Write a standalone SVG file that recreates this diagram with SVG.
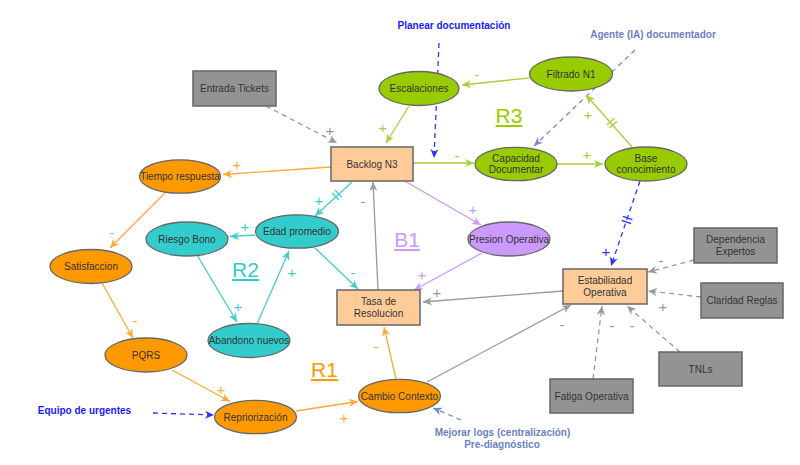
<svg xmlns="http://www.w3.org/2000/svg" width="800" height="465" viewBox="0 0 800 465">
<style>
.t{font-family:"Liberation Sans",Arial,sans-serif;font-size:10px;fill:#333;text-anchor:middle}
.ell{stroke:#666;stroke-width:1.3}
.box{stroke:#666;stroke-width:1.5}
.peach{fill:#ffcc99}
.gbox{fill:#939393}
.g{fill:#99cc00}.o{fill:#ff9900}.c{fill:#33cccc}.p{fill:#cc99ff}
.ln{fill:none;stroke-width:1.3}
.lg{stroke:#a6d13a}.lo{stroke:#ffaa33}.lc{stroke:#44cccc}.lp{stroke:#cc99ff}.lgr{stroke:#999}.lb{stroke:#3333ff}.ls{stroke:#7788cc}
.d{stroke-dasharray:5,4}
.s{font-family:"Liberation Sans",Arial,sans-serif;font-size:15px;text-anchor:middle}
.lab{font-family:"Liberation Sans",Arial,sans-serif;font-size:10px;font-weight:bold;text-anchor:middle}
.loop{font-family:"Liberation Sans",Arial,sans-serif;font-size:21px;text-anchor:middle;text-decoration:underline}
</style>
<defs>
<marker id="ag" viewBox="0 0 10 10" refX="10" refY="5" markerWidth="9" markerHeight="9" markerUnits="userSpaceOnUse" orient="auto"><path d="M0,0.5 L10,5 L0,9.5 L3,5 z" fill="#a6d13a"/></marker>
<marker id="ao" viewBox="0 0 10 10" refX="10" refY="5" markerWidth="9" markerHeight="9" markerUnits="userSpaceOnUse" orient="auto"><path d="M0,0.5 L10,5 L0,9.5 L3,5 z" fill="#ffaa33"/></marker>
<marker id="ac" viewBox="0 0 10 10" refX="10" refY="5" markerWidth="9" markerHeight="9" markerUnits="userSpaceOnUse" orient="auto"><path d="M0,0.5 L10,5 L0,9.5 L3,5 z" fill="#44cccc"/></marker>
<marker id="ap" viewBox="0 0 10 10" refX="10" refY="5" markerWidth="9" markerHeight="9" markerUnits="userSpaceOnUse" orient="auto"><path d="M0,0.5 L10,5 L0,9.5 L3,5 z" fill="#cc99ff"/></marker>
<marker id="agr" viewBox="0 0 10 10" refX="10" refY="5" markerWidth="9" markerHeight="9" markerUnits="userSpaceOnUse" orient="auto"><path d="M0,0.5 L10,5 L0,9.5 L3,5 z" fill="#999"/></marker>
<marker id="ab" viewBox="0 0 10 10" refX="10" refY="5" markerWidth="9" markerHeight="9" markerUnits="userSpaceOnUse" orient="auto"><path d="M0,0.5 L10,5 L0,9.5 L3,5 z" fill="#3333ff"/></marker>
<marker id="as" viewBox="0 0 10 10" refX="10" refY="5" markerWidth="9" markerHeight="9" markerUnits="userSpaceOnUse" orient="auto"><path d="M0,0.5 L10,5 L0,9.5 L3,5 z" fill="#7788cc"/></marker>
</defs>
<rect width="800" height="465" fill="#fff"/>

<g id="connectors">
<!-- R3 -->
<line class="ln lgr d" x1="266" y1="106" x2="337" y2="143" marker-end="url(#agr)"/>
<line class="ln lg" x1="409" y1="106" x2="386" y2="143" marker-end="url(#ag)"/>
<line class="ln lg" x1="529" y1="78" x2="462" y2="85" marker-end="url(#ag)"/>
<line class="ln lb d" x1="439" y1="43" x2="434" y2="158" marker-end="url(#ab)"/>
<line class="ln lg" x1="413" y1="163" x2="474" y2="163" marker-end="url(#ag)"/>
<line class="ln ls d" x1="635" y1="50" x2="534" y2="146" marker-end="url(#as)"/>
<line class="ln lg" x1="557" y1="164" x2="603" y2="164" marker-end="url(#ag)"/>
<line class="ln lg" x1="632" y1="147" x2="586" y2="95" marker-end="url(#ag)"/>
<g class="lg" stroke-width="1.3" transform="translate(612,123) rotate(-131)"><line x1="-2" y1="-5" x2="-2" y2="5"/><line x1="2" y1="-5" x2="2" y2="5"/></g>
<line class="ln lb d" x1="640" y1="181" x2="611" y2="266" marker-end="url(#ab)"/>
<g class="lb" stroke-width="1.3" transform="translate(627,220) rotate(109)"><line x1="-2" y1="-5" x2="-2" y2="5"/><line x1="2" y1="-5" x2="2" y2="5"/></g>
<!-- Estabilidad inputs -->
<line class="ln lgr d" x1="694" y1="260" x2="648" y2="272" marker-end="url(#agr)"/>
<line class="ln lgr d" x1="701" y1="297" x2="648" y2="291" marker-end="url(#agr)"/>
<line class="ln lgr d" x1="680" y1="352" x2="627" y2="306" marker-end="url(#agr)"/>
<line class="ln lgr d" x1="593" y1="379" x2="602" y2="306" marker-end="url(#agr)"/>
<line class="ln lgr" x1="427" y1="382" x2="571" y2="305" marker-end="url(#agr)"/>
<line class="ln lgr" x1="563" y1="291" x2="423" y2="302" marker-end="url(#agr)"/>
<line class="ln lgr" x1="378" y1="290" x2="373" y2="182" marker-end="url(#agr)"/>
<!-- B1 -->
<line class="ln lp" x1="403" y1="180" x2="481" y2="225" marker-end="url(#ap)"/>
<line class="ln lp" x1="482" y1="253" x2="414" y2="290" marker-end="url(#ap)"/>
<!-- R2 -->
<line class="ln lc" x1="352" y1="182" x2="315" y2="216" marker-end="url(#ac)"/>
<g class="lc" stroke-width="1.3" transform="translate(337,195) rotate(137)"><line x1="-2" y1="-5" x2="-2" y2="5"/><line x1="2" y1="-5" x2="2" y2="5"/></g>
<line class="ln lc" x1="255" y1="235" x2="230" y2="236.5" marker-end="url(#ac)"/>
<line class="ln lc" x1="197" y1="255" x2="237" y2="322" marker-end="url(#ac)"/>
<line class="ln lc" x1="257" y1="324" x2="289" y2="251" marker-end="url(#ac)"/>
<line class="ln lc" x1="315" y1="248" x2="358" y2="289" marker-end="url(#ac)"/>
<!-- R1 -->
<line class="ln lo" x1="331" y1="167" x2="223" y2="174.5" marker-end="url(#ao)"/>
<line class="ln lo" x1="165" y1="193" x2="110" y2="248" marker-end="url(#ao)"/>
<line class="ln lo" x1="102" y1="283" x2="133" y2="338" marker-end="url(#ao)"/>
<line class="ln lo" x1="172" y1="370" x2="230" y2="401.5" marker-end="url(#ao)"/>
<line class="ln lb d" x1="153" y1="413" x2="214" y2="415" marker-end="url(#ab)"/>
<line class="ln lo" x1="296" y1="411" x2="358" y2="401.5" marker-end="url(#ao)"/>
<line class="ln lo" x1="396" y1="379" x2="384" y2="327" marker-end="url(#ao)"/>
<line class="ln ls d" x1="461" y1="420" x2="433" y2="408" marker-end="url(#as)"/>

<!-- polarity signs -->
<g class="s">
<text x="330" y="136" fill="#999">+</text>
<text x="383" y="133" fill="#a6d13a">+</text>
<text x="477" y="80" fill="#a6d13a">-</text>
<text x="457" y="161" fill="#a6d13a">-</text>
<text x="587" y="160" fill="#a6d13a">+</text>
<text x="588" y="120" fill="#a6d13a">+</text>
<text x="606" y="257" fill="#3333ff">+</text>
<text x="661" y="266" fill="#999">-</text>
<text x="663" y="312" fill="#999">+</text>
<text x="632" y="331" fill="#999">-</text>
<text x="612" y="331" fill="#999">-</text>
<text x="562" y="330" fill="#999">-</text>
<text x="437" y="298" fill="#999">+</text>
<text x="363" y="207" fill="#999">-</text>
<text x="473" y="215" fill="#cc99ff">+</text>
<text x="422" y="280" fill="#cc99ff">+</text>
<text x="319" y="206" fill="#44cccc">+</text>
<text x="245" y="232" fill="#44cccc">+</text>
<text x="238" y="312" fill="#44cccc">+</text>
<text x="292" y="278" fill="#44cccc">+</text>
<text x="353" y="278" fill="#44cccc">-</text>
<text x="237" y="170" fill="#ffaa33">+</text>
<text x="112" y="238" fill="#ffaa33">-</text>
<text x="135" y="326" fill="#ffaa33">-</text>
<text x="221" y="395" fill="#ffaa33">+</text>
<text x="344" y="423" fill="#ffaa33">+</text>
<text x="376" y="352" fill="#ffaa33">-</text>
</g>
</g>

<!-- loop labels & external texts -->
<text class="loop" x="509" y="123" fill="#99cc00">R3</text>
<text class="loop" x="245.5" y="277" fill="#33cccc">R2</text>
<text class="loop" x="407" y="247" fill="#cc99ff">B1</text>
<text class="loop" x="324.5" y="377" fill="#ff9900">R1</text>
<text class="lab" x="454" y="29" fill="#1a1aff">Planear documentación</text>
<text class="lab" x="653" y="38" fill="#6b7fc4">Agente (IA) documentador</text>
<text class="lab" x="84.5" y="414" fill="#1a1aff">Equipo de urgentes</text>
<text class="lab" x="502.5" y="436" fill="#6b7fc4">Mejorar logs (centralización)</text>
<text class="lab" x="502" y="448" fill="#6b7fc4">Pre-diagnóstico</text>

<g id="entrada-tickets"><rect class="box gbox" x="193" y="71" width="83" height="35"/><text class="t" x="234.5" y="92">Entrada Tickets</text></g>
<g id="escalaciones"><ellipse class="ell g" cx="419" cy="88.5" rx="40" ry="17"/><text class="t" x="419" y="92">Escalaciones</text></g>
<g id="filtrado-n1"><ellipse class="ell g" cx="571" cy="74" rx="41.5" ry="17"/><text class="t" x="571" y="77.5">Filtrado N1</text></g>
<g id="capacidad-documentar"><ellipse class="ell g" cx="516" cy="164" rx="41" ry="16.7"/><text class="t" x="516" y="161.5">Capacidad</text><text class="t" x="516" y="172.5">Documentar</text></g>
<g id="base-conocimiento"><ellipse class="ell g" cx="646" cy="164" rx="41" ry="17"/><text class="t" x="646" y="161.5">Base</text><text class="t" x="646" y="172.5">conocimiento</text></g>
<g id="backlog-n3"><rect class="box peach" x="331" y="147" width="82" height="34"/><text class="t" x="372" y="167.5">Backlog N3</text></g>
<g id="tiempo-respuesta"><ellipse class="ell o" cx="180" cy="176.5" rx="40.5" ry="16.7"/><text class="t" x="180" y="180">Tiempo respuesta</text></g>
<g id="edad-promedio"><ellipse class="ell c" cx="297" cy="231.5" rx="41.5" ry="16.7"/><text class="t" x="297" y="235">Edad promedio</text></g>
<g id="riesgo-bono"><ellipse class="ell c" cx="187" cy="239" rx="41" ry="17"/><text class="t" x="187" y="242.5">Riesgo Bono</text></g>
<g id="presion-operativa"><ellipse class="ell p" cx="509" cy="239" rx="41" ry="17"/><text class="t" x="509" y="242.5">Presion Operativa</text></g>
<g id="estabiliadad-operativa"><rect class="box peach" x="563" y="269" width="84" height="35"/><text class="t" x="605" y="284">Estabiliadad</text><text class="t" x="605" y="296">Operativa</text></g>
<g id="dependencia-expertos"><rect class="box gbox" x="694" y="228" width="83" height="35"/><text class="t" x="735.5" y="243">Dependencia</text><text class="t" x="735.5" y="255">Expertos</text></g>
<g id="claridad-reglas"><rect class="box gbox" x="701" y="283" width="82" height="35"/><text class="t" x="742" y="304">Claridad Reglas</text></g>
<g id="tnls"><rect class="box gbox" x="659" y="352" width="83" height="34"/><text class="t" x="700.5" y="372.5">TNLs</text></g>
<g id="fatiga-operativa"><rect class="box gbox" x="550" y="379" width="83" height="34"/><text class="t" x="591.5" y="399.5">Fatiga Operativa</text></g>
<g id="tasa-de-resolucion"><rect class="box peach" x="337" y="290" width="83" height="35"/><text class="t" x="378.5" y="305">Tasa de</text><text class="t" x="378.5" y="317">Resolucion</text></g>
<g id="satisfaccion"><ellipse class="ell o" cx="91" cy="266.5" rx="41" ry="17"/><text class="t" x="91" y="270">Satisfaccion</text></g>
<g id="pqrs"><ellipse class="ell o" cx="146" cy="355" rx="41" ry="17"/><text class="t" x="146" y="358.5">PQRS</text></g>
<g id="abandono-nuevos"><ellipse class="ell c" cx="249" cy="340.5" rx="41" ry="17"/><text class="t" x="249" y="344">Abandono nuevos</text></g>
<g id="repriorizacion"><ellipse class="ell o" cx="255.5" cy="417" rx="41" ry="16.7"/><text class="t" x="255.5" y="420.5">Repriorización</text></g>
<g id="cambio-contexto"><ellipse class="ell o" cx="399.5" cy="396" rx="41" ry="16.7"/><text class="t" x="399.5" y="399.5">Cambio Contexto</text></g>
</svg>
